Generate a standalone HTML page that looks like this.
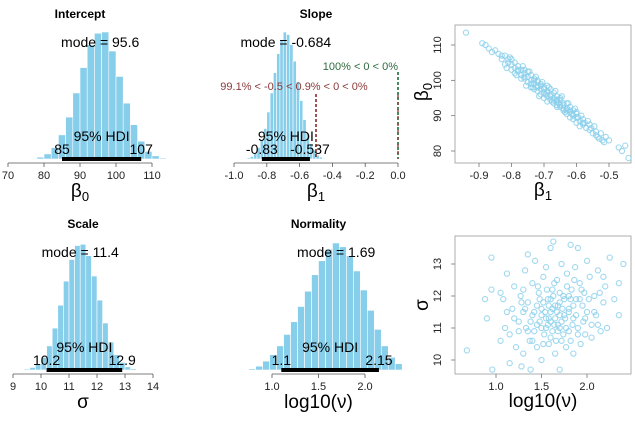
<!DOCTYPE html>
<html><head><meta charset="utf-8"><style>
html,body{margin:0;padding:0;background:#fff;}
svg{display:block;font-family:"Liberation Sans",sans-serif;}
</style></head><body>
<svg id="chart" width="635" height="421" viewBox="0 0 635 421" xmlns="http://www.w3.org/2000/svg"></svg>
<script>
// ---- data ----
const interceptBinStart = 76, interceptBinWidth = 2;
const interceptHeights = [0.005,0.015,0.04,0.09,0.19,0.33,0.52,0.72,0.90,0.99,1.0,0.85,0.65,0.44,0.27,0.14,0.06,0.025,0.008];
const slopeBinStart = -0.96, slopeBinWidth = 0.02;
const slopeHeights = [0.002,0.005,0.01,0.02,0.05,0.09,0.15,0.24,0.37,0.52,0.68,0.83,0.94,1.0,0.98,0.90,0.77,0.61,0.46,0.31,0.20,0.12,0.07,0.03,0.015,0.006];
const scaleBinStart = 9.2, scaleBinWidth = 0.2;
const scaleHeights = [0.003,0.008,0.02,0.05,0.10,0.19,0.33,0.51,0.70,0.87,0.98,0.99,0.90,0.74,0.55,0.37,0.22,0.12,0.06,0.025,0.01,0.004,0.002,0.001,0.001];
const normBinStart = 0.75, normBinWidth = 0.075;
const normHeights = [0.01,0.03,0.07,0.12,0.19,0.28,0.38,0.50,0.62,0.75,0.86,0.95,1.0,0.97,0.90,0.78,0.63,0.47,0.32,0.19,0.10,0.05];
const modes = [95.6,-0.684,11.4,1.69];
const hdiLow = [85,-0.83,10.2,1.1];
const hdiHigh = [107,-0.537,12.9,2.15];
const hdiLowLabels = ["85","-0.83","10.2","1.1"];
const hdiHighLabels = ["107","-0.537","12.9","2.15"];
const modeLabels = ["95.6","-0.684","11.4","1.69"];
const interceptTicks = [70,80,90,100,110];
const slopeTicks = [-1.0,-0.8,-0.6,-0.4,-0.2,0.0];
const scaleTicks = [9,10,11,12,13,14];
const normTicks = [1.0,1.5,2.0];
const ropeValues = [-0.5, 0];
const scatter1 = [[-0.94,113.5],[-0.89,110.5],[-0.88,110],[-0.87,109],[-0.86,108],[-0.85,108.5],[-0.84,107.5],[-0.83,106],[-0.82,107],[-0.81,105],[-0.8,104.5],[-0.8,106],[-0.79,103.5],[-0.79,105],[-0.78,104],[-0.78,102.5],[-0.77,103],[-0.77,101.5],[-0.76,102],[-0.76,100.5],[-0.75,101],[-0.75,99.5],[-0.74,101.5],[-0.74,100],[-0.73,99],[-0.73,100.5],[-0.72,98.5],[-0.72,97],[-0.71,99],[-0.71,97.5],[-0.7,96.5],[-0.7,98],[-0.69,95.5],[-0.69,97],[-0.68,96],[-0.68,94.5],[-0.67,95],[-0.67,96.5],[-0.66,94],[-0.66,93],[-0.65,94.5],[-0.65,92.5],[-0.64,93],[-0.64,91.5],[-0.63,92],[-0.63,90.5],[-0.62,91],[-0.62,92.5],[-0.61,90],[-0.61,89],[-0.6,89.5],[-0.6,88],[-0.59,88.5],[-0.59,87],[-0.58,87.5],[-0.57,86.5],[-0.56,86],[-0.55,85],[-0.54,84.5],[-0.53,83.5],[-0.52,83],[-0.51,84],[-0.5,83],[-0.47,81],[-0.46,80],[-0.45,81.5],[-0.44,78],[-0.75,102.5],[-0.72,100],[-0.69,98.5],[-0.66,95.5],[-0.63,93.5],[-0.7,95],[-0.67,93.5],[-0.74,98],[-0.77,100.5],[-0.6,91],[-0.58,89],[-0.62,89.5],[-0.71,96],[-0.68,97.5],[-0.65,95],[-0.73,97.5],[-0.76,103],[-0.64,92],[-0.61,91.5],[-0.69,94],[-0.72,98],[-0.66,92.5],[-0.79,102],[-0.56,87.5],[-0.54,85.5],[-0.82,104.5],[-0.815,103.5],[-0.805,106.5],[-0.785,101.5],[-0.765,104],[-0.755,98.5],[-0.745,102.5],[-0.735,98],[-0.725,101],[-0.715,95.5],[-0.705,99.5],[-0.695,96],[-0.685,98],[-0.675,94],[-0.665,97],[-0.655,93.5],[-0.645,95.5],[-0.635,91],[-0.625,93.5],[-0.615,90.5],[-0.605,92],[-0.595,89.5],[-0.585,90],[-0.575,88],[-0.565,88.5],[-0.555,86.5],[-0.545,87],[-0.535,84],[-0.525,85],[-0.515,82.5],[-0.72,99.5],[-0.7,97.5],[-0.68,95.5],[-0.66,94.5],[-0.64,93.5],[-0.62,91.5],[-0.74,99],[-0.76,101],[-0.78,103],[-0.69,96.5],[-0.67,94.5],[-0.65,93],[-0.71,98.5],[-0.73,100],[-0.63,91.5],[-0.6,90.5],[-0.58,88],[-0.8,103],[-0.83,107],[-0.81,106]];
const scatter2 = [[0.68,10.3],[0.88,11.9],[0.9,11.3],[0.95,13.2],[0.95,12.2],[0.96,9.7],[1.05,10.6],[1.08,11.9],[1.1,11.0],[1.12,12.7],[1.15,10.8],[1.15,9.9],[1.18,11.6],[1.2,12.3],[1.22,10.4],[1.25,11.2],[1.27,12.0],[1.28,9.8],[1.3,11.5],[1.3,10.2],[1.32,12.8],[1.33,11.0],[1.35,13.3],[1.35,11.8],[1.37,10.6],[1.38,9.7],[1.4,12.4],[1.4,11.4],[1.42,10.9],[1.43,13.1],[1.45,11.7],[1.45,10.4],[1.47,12.1],[1.48,11.2],[1.5,10.0],[1.5,11.6],[1.52,12.6],[1.53,10.8],[1.55,11.3],[1.55,12.9],[1.57,11.9],[1.58,10.5],[1.6,13.5],[1.6,11.5],[1.62,12.2],[1.62,10.9],[1.63,13.7],[1.65,11.7],[1.65,10.2],[1.67,12.5],[1.68,11.1],[1.7,11.8],[1.7,9.7],[1.72,13.0],[1.72,10.6],[1.74,12.0],[1.75,11.4],[1.77,10.4],[1.78,12.7],[1.8,11.6],[1.8,10.9],[1.82,13.6],[1.83,12.2],[1.85,11.3],[1.85,10.2],[1.87,12.9],[1.88,11.9],[1.9,13.5],[1.9,11.0],[1.92,12.4],[1.93,10.5],[1.95,11.7],[1.97,12.1],[1.98,10.8],[2.0,13.1],[2.0,11.5],[2.03,12.6],[2.05,11.1],[2.05,10.7],[2.08,12.0],[2.1,11.4],[2.12,12.8],[2.15,10.9],[2.18,11.8],[2.2,12.3],[2.22,11.0],[2.25,13.2],[2.3,11.9],[2.35,12.4],[2.35,11.4],[2.4,13.0],[1.6,11.2],[1.7,11.4],[1.55,11.0],[1.75,11.9],[1.65,11.3],[1.5,11.4],[1.8,11.5],[1.58,11.7],[1.68,10.9],[1.45,11.1],[1.85,11.7],[1.62,11.6],[1.72,11.2],[1.52,11.8],[1.57,11.1],[1.63,12.0],[1.67,11.5],[1.73,11.6],[1.77,11.0],[1.82,11.9],[1.88,11.4],[1.92,11.9],[1.96,11.2],[2.02,11.9],[1.48,11.9],[1.42,11.5],[1.38,11.2],[1.35,10.9],[1.28,11.8],[1.25,10.9],[1.2,11.3],[1.52,10.5],[1.6,10.7],[1.66,10.6],[1.74,10.8],[1.82,10.6],[1.9,10.8],[1.98,11.3],[2.08,11.5],[2.14,12.1],[1.56,12.2],[1.64,12.4],[1.7,12.1],[1.78,12.3],[1.86,12.5],[1.94,12.2],[1.46,12.3],[1.4,10.6],[1.32,11.6],[1.6,11.9],[1.7,11.0],[1.54,11.5],[1.76,11.3],[1.64,11.1],[1.84,11.1],[1.58,11.3],[1.68,11.7],[1.5,11.0],[1.8,12.0],[2.12,11.1],[2.18,12.6],[1.12,11.5],[1.05,12.1],[1.3,12.2]];

// ---- helpers ----
const svg = document.getElementById('chart');
const NS = 'http://www.w3.org/2000/svg';
function mk(tag, attrs, parent){ const e=document.createElementNS(NS,tag); for(const k in attrs) e.setAttribute(k,attrs[k]); (parent||svg).appendChild(e); return e; }
function txt(s, x, y, size, opts, parent){ const t=mk('text',Object.assign({x:x,y:y,'font-size':size,'text-anchor':'middle',fill:'#000'},opts||{}),parent); t.textContent=s; return t; }

const panels = [
  {name:'intercept', title:'Intercept', x0:70, px0:8, scale:3.6, base:159, axisY:163, peak:127, start:interceptBinStart, w:interceptBinWidth, h:interceptHeights, ticks:interceptTicks, dec:0, lab:'β', sub:'0', titleY:18, modeY:47},
  {name:'slope', title:'Slope', x0:-1.0, px0:234, scale:164, base:159, axisY:163, peak:127, start:slopeBinStart, w:slopeBinWidth, h:slopeHeights, ticks:slopeTicks, dec:1, lab:'β', sub:'1', titleY:18, modeY:47},
  {name:'scale', title:'Scale', x0:9, px0:13, scale:28, base:370, axisY:374, peak:127, start:scaleBinStart, w:scaleBinWidth, h:scaleHeights, ticks:scaleTicks, dec:0, lab:'σ', sub:'', titleY:228, modeY:257},
  {name:'normality', title:'Normality', x0:1.0, px0:272, scale:93, base:370, axisY:374, peak:127, start:normBinStart, w:normBinWidth, h:normHeights, ticks:normTicks, dec:1, lab:'log10(ν)', sub:'', titleY:228, modeY:257}
];

panels.forEach((p,i)=>{
  const g = mk('g',{});
  
  
  const X = v => p.px0 + (v - p.x0)*p.scale;
  p.h.forEach((hv,j)=>{
    const x1 = X(p.start + j*p.w), x2 = X(p.start + (j+1)*p.w);
    const hh = hv*p.peak;
    const r = mk('rect',{x:x1,y:p.base-hh,width:Math.max(x2-x1,0.5),height:hh,fill:'#87ceeb',stroke:'#ffffff','stroke-width':0.6},g);
    
    
  });
  const a = mk('line',{x1:X(p.ticks[0]),x2:X(p.ticks[p.ticks.length-1]),y1:p.axisY,y2:p.axisY,stroke:'#555','stroke-width':0.8},g);
  
  
  p.ticks.forEach(t=>{
    mk('line',{x1:X(t),x2:X(t),y1:p.axisY,y2:p.axisY+4,stroke:'#555','stroke-width':0.8},g);
    const tl = txt(t.toFixed(p.dec), X(t), p.axisY+16, 11, {fill:'#222'}, g);
    
    
  });
  const tt = txt(p.title, (X(p.ticks[0])+X(p.ticks[p.ticks.length-1]))/2, p.titleY, 12, {'font-weight':'bold'}, g);
  
  
  const xl = txt(p.lab, (X(p.ticks[0])+X(p.ticks[p.ticks.length-1]))/2, p.axisY+34, 19, {}, g);
  if(p.sub){ const ts=document.createElementNS(NS,'tspan'); ts.setAttribute('font-size','13'); ts.setAttribute('dy','4'); ts.textContent=p.sub; xl.appendChild(ts); }
  
  
  const mt = txt('mode = '+modeLabels[i], X(modes[i]), p.modeY, 14, {}, g);
  
  
  const hb = mk('line',{x1:X(hdiLow[i]),x2:X(hdiHigh[i]),y1:p.base,y2:p.base,stroke:'#000','stroke-width':4},g);
  
  
  const ht = txt('95% HDI', (X(hdiLow[i])+X(hdiHigh[i]))/2, p.base-18, 14, {}, g);
  
  
  const l1 = txt(hdiLowLabels[i], X(hdiLow[i]), p.base-5, 14, {}, g);
  
  
  const l2 = txt(hdiHighLabels[i], X(hdiHigh[i]), p.base-5, 14, {}, g);
  
  
  if(p.name==='slope'){
    const gx = X(ropeValues[1]), rx = X(ropeValues[0]);
    const gl = mk('line',{x1:gx,x2:gx,y1:72,y2:p.base,stroke:'#1e6b3a','stroke-width':1.6,'stroke-dasharray':'3,2'},g);
    
    
    mk('line',{x1:gx,x2:gx,y1:95,y2:p.base,stroke:'#8b2a2a','stroke-width':1.2,'stroke-dasharray':'3,4'},g);
    const rl = mk('line',{x1:rx,x2:rx,y1:94,y2:p.base,stroke:'#8b2a2a','stroke-width':1.6,'stroke-dasharray':'3,2'},g);
    
    
    const gt = txt('100% < 0 < 0%', gx, 70, 11, {'text-anchor':'end',fill:'#2e6b3e'}, g);
    
    
    const rt = txt('99.1% < -0.5 < 0.9% < 0 < 0%', 294, 90, 11, {fill:'#8b3a3a'}, g);
    
    
  }
});

const scatters = [
  {name:'beta1-beta0-scatter', pts:scatter1, box:[455,25,631,163], X:v=>479+(v+0.9)*325, Y:v=>151-(v-80)*3.533, xt:[-0.9,-0.8,-0.7,-0.6,-0.5], xd:1, yt:[80,90,100,110], yd:0, xl:'β', xs:'1', yl:'β', ys:'0', ylY:92},
  {name:'log-nu-sigma-scatter', pts:scatter2, box:[455,236,631,374], X:v=>496+(v-1)*91, Y:v=>360-(v-10)*32, xt:[1.0,1.5,2.0], xd:1, yt:[10,11,12,13], yd:0, xl:'log10(ν)', xs:'', yl:'σ', ys:'', ylY:305}
];
scatters.forEach(s=>{
  const g = mk('g',{});
  
  
  const [x1,y1,x2,y2]=s.box;
  const fr = mk('rect',{x:x1,y:y1,width:x2-x1,height:y2-y1,fill:'none',stroke:'#999','stroke-width':0.8},g);
  
  
  s.pts.forEach(p=>{
    const c = mk('circle',{cx:s.X(p[0]),cy:s.Y(p[1]),r:2.6,fill:'none',stroke:'#87ceeb','stroke-width':1.1,'stroke-opacity':0.8},g);
    
    
  });
  s.xt.forEach(t=>{
    mk('line',{x1:s.X(t),x2:s.X(t),y1:y2,y2:y2+4,stroke:'#777','stroke-width':0.8},g);
    const tl = txt(t.toFixed(s.xd), s.X(t), y2+16, 11, {fill:'#222'}, g);
    
    
  });
  s.yt.forEach(t=>{
    mk('line',{x1:x1,x2:x1-4,y1:s.Y(t),y2:s.Y(t),stroke:'#777','stroke-width':0.8},g);
    const tl = txt(t.toFixed(s.yd), 441, s.Y(t), 11, {fill:'#222',transform:'rotate(-90 441 '+s.Y(t)+')'}, g);
    
    
  });
  const xl = txt(s.xl, (x1+x2)/2, y2+33, 19, {}, g);
  if(s.xs){ const ts=document.createElementNS(NS,'tspan'); ts.setAttribute('font-size','13'); ts.setAttribute('dy','4'); ts.textContent=s.xs; xl.appendChild(ts); }
  
  
  const yl = txt(s.yl, 428, s.ylY, 19, {transform:'rotate(-90 428 '+s.ylY+')'}, g);
  if(s.ys){ const ts=document.createElementNS(NS,'tspan'); ts.setAttribute('font-size','13'); ts.setAttribute('dy','4'); ts.textContent=s.ys; yl.appendChild(ts); }
  
  
});
</script>
</body></html>
